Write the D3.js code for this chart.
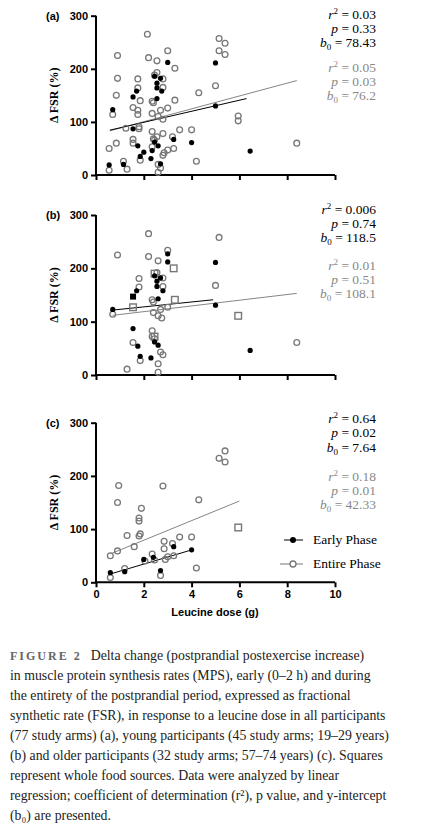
<!DOCTYPE html>
<html><head><meta charset="utf-8">
<script src="https://cdn.jsdelivr.net/npm/d3@7"></script>
<style>body{margin:0;background:#fff}svg{display:block}</style>
</head><body>
<script>
// Panel (a): all participants
const aEarly=[[0.55,19],[0.7,123],[1.15,20],[1.55,147],[1.7,158],[1.55,87],[1.75,55],[1.85,35],[2,43],[2.3,31],[2.35,46],[2.45,186],[2.45,62],[2.55,173],[2.55,164],[2.55,144],[2.6,55],[2.7,182],[2.75,158],[2.7,21],[3,212],[3.25,67],[4,61],[5,211],[5,130],[6.45,45]];
const aEntire=[[0.55,50],[0.55,9],[0.7,114],[0.85,150],[0.85,60],[0.9,182],[0.9,225],[1.15,26],[1.25,88],[1.3,11],[1.55,127],[1.55,67],[1.55,60],[1.75,181],[1.75,164],[1.75,122],[1.75,114],[1.8,87],[1.8,91],[1.85,140],[1.85,28],[2.15,265],[2.2,221],[2.35,139],[2.35,116],[2.35,82],[2.4,136],[2.4,68],[2.35,53],[2.45,188],[2.45,66],[2.55,193],[2.55,215],[2.55,72],[2.6,20],[2.6,5],[2.6,110],[2.7,13],[2.7,122],[2.8,105],[2.8,37],[2.8,78],[2.8,181],[2.8,165],[2.85,42],[3,234],[3,126],[3,47],[3.2,72],[3.25,50],[3.3,201],[3.3,141],[3.5,85],[4,85],[4.2,26],[4.3,155],[5,168],[5.15,257],[5.15,234],[5.4,248],[5.4,227],[5.95,111],[5.95,102],[8.4,60]];
const aSquares=[];
// Panel (b): young participants
const bEarly=[[0.7,123],[1.7,158],[1.55,87],[1.75,54],[1.85,35],[2.3,32],[2.45,186],[2.45,62],[2.55,176],[2.55,166],[2.6,143],[2.6,56],[2.7,182],[2.8,158],[3,227],[3,212],[5,211],[5,131],[6.45,46]];
const bEarlySquares=[[1.55,147]];
const bEntire=[[0.7,114],[0.9,225],[1.3,11],[1.55,61],[1.8,181],[1.8,165],[1.85,27],[2.2,265],[2.2,222],[2.35,141],[2.4,117],[2.35,83],[2.4,137],[2.35,72],[2.45,68],[2.55,192],[2.6,214],[2.6,111],[2.6,21],[2.6,5],[2.7,123],[2.75,107],[2.8,182],[2.8,166],[2.7,43],[2.8,38],[3,127],[3,234],[5,168],[5.15,258],[8.4,61]];
const bSquares=[[1.55,127],[2.45,190],[2.45,72],[3.25,200],[3.3,141],[5.95,111]];
// Panel (c): older participants
const cEarly=[[0.6,18],[1.2,20],[2,43],[2.4,47],[2.7,22],[3.25,67],[4,61]];
const cEntire=[[0.6,50],[0.6,9],[0.9,59],[0.9,150],[0.95,182],[1.2,26],[1.3,88],[1.6,67],[1.8,87],[1.8,115],[1.8,121],[1.85,91],[1.9,139],[2.05,40],[2.35,53],[2.45,42],[2.7,13],[2.8,181],[2.85,77],[2.85,63],[2.9,43],[3,48],[3.2,73],[3.25,50],[3.5,85],[4,85],[4.2,27],[4.3,155],[5.15,233],[5.4,247],[5.4,226]];
const cSquares=[[5.95,103]];
// regression lines: [b0, slope, xStart, xEnd]
const regEarly=[[78.43,10.4,0.58,6.3],[118.5,4.6,0.7,4.9],[7.64,13.3,0.6,4]];
const regEntire=[[76.2,12.1,0.58,8.4],[108.1,5.35,0.7,8.4],[42.33,18.4,0.6,6]];
const statsEarly=[["0.03","0.33","78.43"],["0.006","0.74","118.5"],["0.64","0.02","7.64"]];
const statsEntire=[["0.05","0.03","76.2"],["0.01","0.51","108.1"],["0.18","0.01","42.33"]];
const panelLabels=["(a)","(b)","(c)"];
const xTicks=[0,2,4,6,8,10];
const yTicks=[0,100,200,300];
const captionLines=["Delta change (postprandial postexercise increase)","in muscle protein synthesis rates (MPS), early (0–2 h) and during","the entirety of the postprandial period, expressed as fractional","synthetic rate (FSR), in response to a leucine dose in all participants","(77 study arms) (a), young participants (45 study arms; 19–29 years)","(b) and older participants (32 study arms; 57–74 years) (c). Squares","represent whole food sources. Data were analyzed by linear","regression; coefficient of determination (r²), p value, and y-intercept","(b₀) are presented."];

const svg=d3.select("body").append("svg").attr("width",428).attr("height",832);
const gray="#777";
const panels=[
 {top:15.7,bot:175,early:aEarly,eSq:[],entire:aEntire,sq:aSquares,stY:[19,33,47,72,86,100]},
 {top:215,bot:375,early:bEarly,eSq:bEarlySquares,entire:bEntire,sq:bSquares,stY:[214,228,242,270,284,298]},
 {top:422.7,bot:582.3,early:cEarly,eSq:[],entire:cEntire,sq:cSquares,stY:[423,437,452,481,495,509]}
];
const x=d3.scaleLinear().domain([0,10]).range([96,335]);
panels.forEach((p,i)=>{
  const y=d3.scaleLinear().domain([0,300]).range([p.bot,p.top]);
  const g=svg.append("g");
  const xa=g.append("g").attr("transform",`translate(0,${p.bot})`).call(d3.axisBottom(x).tickValues(xTicks).tickSize(5).tickFormat(i===2?d3.format("d"):""));
  const ya=g.append("g").attr("transform","translate(96,0)").call(d3.axisLeft(y).tickValues(yTicks).tickSize(5));
  [xa,ya].forEach(a=>{a.selectAll("path,line").attr("stroke","#000").attr("stroke-width",2);
    a.selectAll("text").attr("font-family","Liberation Sans, Arial").attr("font-weight","bold").attr("font-size",11).attr("fill","#000");});
  xa.select(".domain").attr("d",`M96,0H335`);
  ya.select(".domain").attr("d",`M0,${p.bot}V${p.top}`);
  g.append("text").attr("x",46).attr("y",p.top+4).text(panelLabels[i]).attr("font-family","Liberation Sans, Arial").attr("font-weight","bold").attr("font-size",11);
  g.append("text").attr("transform",`translate(58,${(p.top+p.bot)/2}) rotate(-90)`).attr("text-anchor","middle")
   .attr("font-family","Liberation Serif, serif").attr("font-weight","bold").attr("font-size",12).text("Δ FSR (%)");
  const re=regEarly[i], rn=regEntire[i];
  g.append("line").attr("x1",x(rn[2])).attr("x2",x(rn[3])).attr("y1",y(rn[0]+rn[1]*rn[2])).attr("y2",y(rn[0]+rn[1]*rn[3])).attr("stroke",gray).attr("stroke-width",0.9);
  g.append("line").attr("x1",x(re[2])).attr("x2",x(re[3])).attr("y1",y(re[0]+re[1]*re[2])).attr("y2",y(re[0]+re[1]*re[3])).attr("stroke","#000").attr("stroke-width",1);
  g.selectAll(null).data(p.entire).enter().append("circle").attr("cx",d=>x(d[0])).attr("cy",d=>y(d[1])).attr("r",2.9).attr("fill","none").attr("stroke",gray).attr("stroke-width",1.3);
  g.selectAll(null).data(p.sq).enter().append("rect").attr("x",d=>x(d[0])-3.3).attr("y",d=>y(d[1])-3.3).attr("width",6.6).attr("height",6.6).attr("fill","none").attr("stroke",gray).attr("stroke-width",1.4);
  g.selectAll(null).data(p.early).enter().append("circle").attr("cx",d=>x(d[0])).attr("cy",d=>y(d[1])).attr("r",2.6).attr("fill","#000");
  g.selectAll(null).data(p.eSq).enter().append("rect").attr("x",d=>x(d[0])-3).attr("y",d=>y(d[1])-3).attr("width",6).attr("height",6).attr("fill","#000");
  const st=[statsEarly[i],statsEntire[i]];
  st.forEach((s,k)=>{
    const col=k===0?"#000":"#888";
    const lines=[["r","2"," = "+s[0]],["p",""," = "+s[1]],["b","0"," = "+s[2]]];
    lines.forEach((l,j)=>{
      const t=g.append("text").attr("x",376).attr("y",p.stY[k*3+j]).attr("text-anchor","end").attr("font-family","Liberation Serif, serif").attr("font-size",13.5).attr("fill",col);
      t.append("tspan").attr("font-style","italic").text(l[0]);
      if(j===0) t.append("tspan").attr("dy",-5).attr("font-size",9).text(l[1]);
      if(j===2) t.append("tspan").attr("dy",3).attr("font-size",9).text(l[1]);
      t.append("tspan").attr("dy",j===0?5:j===2?-3:0).text(l[2]);
    });
  });
});
svg.append("text").attr("x",215).attr("y",616).attr("text-anchor","middle").attr("font-family","Liberation Sans, Arial").attr("font-weight","bold").attr("font-size",11).text("Leucine dose (g)");
const lg=svg.append("g");
lg.append("line").attr("x1",284).attr("x2",303).attr("y1",540).attr("y2",540).attr("stroke","#000");
lg.append("circle").attr("cx",293).attr("cy",540).attr("r",3).attr("fill","#000");
lg.append("text").attr("x",313).attr("y",544).text("Early Phase").attr("font-family","Liberation Serif, serif").attr("font-size",13.5);
lg.append("line").attr("x1",280).attr("x2",303).attr("y1",564).attr("y2",564).attr("stroke",gray);
lg.append("circle").attr("cx",293).attr("cy",564).attr("r",3).attr("fill","#fff").attr("stroke",gray).attr("stroke-width",1.3);
lg.append("text").attr("x",313).attr("y",568).text("Entire Phase").attr("font-family","Liberation Serif, serif").attr("font-size",13.5);
const cap=svg.append("g").attr("font-family","Liberation Serif, serif").attr("font-size",13.8).attr("fill","#222");
captionLines.forEach((l,i)=>{
  const t=cap.append("text").attr("x",10).attr("y",660+i*20);
  if(i===0){t.append("tspan").attr("fill","#666").attr("font-weight","bold").attr("letter-spacing",2).attr("font-size",12).text("FIGURE 2");t.append("tspan").attr("dx",9).text(l);}
  else t.text(l);
});
</script>
</body></html>
